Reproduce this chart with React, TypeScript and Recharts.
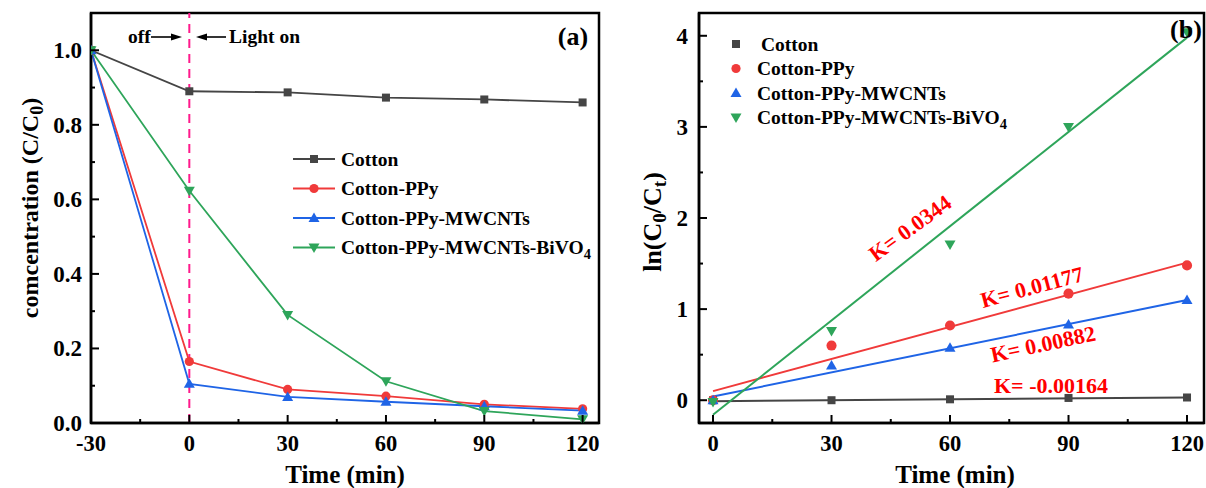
import React from 'react';
import { LineChart, Line, XAxis, YAxis, ReferenceLine, ReferenceArea, ComposedChart, Scatter } from 'recharts';

const FONT = '"Liberation Serif", "Times New Roman", serif';
const GRAY = '#454545';
const RED = '#f03a3a';
const BLUE = '#1f64e6';
const GREEN = '#2ea55a';
const PINK = '#ff1a8c';

// ---- Panel (a) data ----
const timeA = [-30, 0, 30, 60, 90, 120];
const cottonA = [1.0, 0.89, 0.887, 0.873, 0.868, 0.86];
const ppyA = [1.0, 0.165, 0.09, 0.072, 0.05, 0.038];
const mwcntA = [1.0, 0.105, 0.07, 0.057, 0.045, 0.033];
const bivoA = [1.0, 0.623, 0.29, 0.112, 0.032, 0.01];
const xTicksA = [-30, -15, 0, 15, 30, 45, 60, 75, 90, 105, 120];
const xLabelsA = [-30, 0, 30, 60, 90, 120];
const yTicksA = [0, 0.1, 0.2, 0.3, 0.4, 0.5, 0.6, 0.7, 0.8, 0.9, 1.0];
const yLabelsA = [0, 0.2, 0.4, 0.6, 0.8, 1.0];

// ---- Panel (b) data ----
const timeB = [0, 30, 60, 90, 120];
const cottonB = [0.0, 0.0, 0.01, 0.025, 0.03];
const ppyB = [0.0, 0.6, 0.82, 1.17, 1.48];
const mwcntB = [0.0, 0.38, 0.575, 0.83, 1.1];
const bivoB = [-0.02, 0.76, 1.71, 3.0, 4.04];
const fitTimeB = [0, 120];
const fitCottonB = [-0.01, 0.03];
const fitPpyB = [0.1, 1.51];
const fitMwcntB = [0.04, 1.1];
const fitBivoB = [-0.16, 3.98];
const xTicksB = [0, 15, 30, 45, 60, 75, 90, 105, 120];
const xLabelsB = [0, 30, 60, 90, 120];
const yTicksB = [0, 0.5, 1, 1.5, 2, 2.5, 3, 3.5, 4];
const yLabelsB = [0, 1, 2, 3, 4];
const kLabels = ['K= 0.0344', 'K= 0.01177', 'K= 0.00882', 'K= -0.00164'];

const rowsA = timeA.map((t, i) => ({ t, cotton: cottonA[i], ppy: ppyA[i], mwcnt: mwcntA[i], bivo: bivoA[i] }));
const pts = (ys: number[], xs: number[]) => xs.map((t, i) => ({ t, v: ys[i] }));

const isIn = (arr: number[], v: number) => arr.some((a) => Math.abs(a - v) < 1e-9);

function Marker({ kind, cx, cy, color, s = 1 }: any) {
  if (cx == null || cy == null || isNaN(cx) || isNaN(cy)) return null;
  if (kind === 'square') return <rect x={cx - 4 * s} y={cy - 4 * s} width={8 * s} height={8 * s} fill={color} />;
  if (kind === 'circle') return <circle cx={cx} cy={cy} r={4.6 * s} fill={color} />;
  if (kind === 'up')
    return <polygon points={`${cx},${cy - 5.5 * s} ${cx - 5.5 * s},${cy + 4 * s} ${cx + 5.5 * s},${cy + 4 * s}`} fill={color} />;
  return <polygon points={`${cx},${cy + 5.5 * s} ${cx - 5.5 * s},${cy - 4 * s} ${cx + 5.5 * s},${cy - 4 * s}`} fill={color} />;
}

const makeXTick = (labels: number[]) => (props: any) => {
  const { x, y, payload } = props;
  const v = payload.value;
  const major = isIn(labels, v);
  return (
    <g>
      <line x1={x} x2={x} y1={y} y2={y - (major ? 8 : 4)} stroke="#000" strokeWidth={2} />
      {major && (
        <text x={x} y={y + 28} textAnchor="middle" fontFamily={FONT} fontWeight="bold" fontSize={22.5} fill="#000">
          {String(v)}
        </text>
      )}
    </g>
  );
};

const makeYTick = (labels: number[], fmt: (v: number) => string, gap: number) => (props: any) => {
  const { x, y, payload } = props;
  const v = payload.value;
  const major = isIn(labels, v);
  return (
    <g>
      <line x1={x} x2={x + (major ? 8 : 4)} y1={y} y2={y} stroke="#000" strokeWidth={2} />
      {major && (
        <text x={x - gap} y={y + 8} textAnchor="end" fontFamily={FONT} fontWeight="bold" fontSize={23} fill="#000">
          {fmt(v)}
        </text>
      )}
    </g>
  );
};

const dotFn = (kind: string, color: string, s = 1) => (p: any) => (
  <Marker key={`m-${kind}-${p.index}`} kind={kind} cx={p.cx} cy={p.cy} color={color} s={s} />
);

const shapeFn = (kind: string, color: string, s = 1) => (p: any) => (
  <Marker kind={kind} cx={p.cx} cy={p.cy} color={color} s={s} />
);

const seriesA = [
  { key: 'cotton', label: 'Cotton', kind: 'square', color: GRAY },
  { key: 'ppy', label: 'Cotton-PPy', kind: 'circle', color: RED },
  { key: 'mwcnt', label: 'Cotton-PPy-MWCNTs', kind: 'up', color: BLUE },
  { key: 'bivo', label: 'Cotton-PPy-MWCNTs-BiVO', kind: 'down', color: GREEN },
];

function LegendText({ x, y, label, sub }: any) {
  return (
    <text x={x} y={y} fontFamily={FONT} fontWeight="bold" fontSize={19.5} fill="#000">
      {label}
      {sub && (
        <tspan dy={5} fontSize={14.5}>
          {sub}
        </tspan>
      )}
    </text>
  );
}

export default function App() {
  const axisStyle = { stroke: '#000', strokeWidth: 2.5 };
  return (
    <div style={{ position: 'absolute', left: 0, top: 0, width: 1206, height: 488, background: '#fff', overflow: 'hidden' }}>
      {/* Panel (a) */}
      <div style={{ position: 'absolute', left: 0, top: 0 }}>
        <LineChart width={610} height={488} data={rowsA} margin={{ top: 13, right: 11, bottom: 0, left: 0 }}>
          <ReferenceArea x1={-30} x2={125} y1={0} y2={1.1} fill="none" stroke="#000" strokeWidth={2.5} />
          <XAxis
            dataKey="t"
            type="number"
            domain={[-30, 125]}
            ticks={xTicksA}
            interval={0}
            height={65}
            tickSize={0}
            tickMargin={0}
            tickLine={false}
            axisLine={axisStyle}
            tick={makeXTick(xLabelsA)}
            allowDataOverflow
          />
          <YAxis
            type="number"
            domain={[0, 1.1]}
            ticks={yTicksA}
            interval={0}
            width={91}
            tickSize={0}
            tickMargin={0}
            tickLine={false}
            axisLine={axisStyle}
            tick={makeYTick(yLabelsA, (v) => v.toFixed(1), 9)}
            allowDataOverflow
          />
          <ReferenceLine x={0} stroke={PINK} strokeWidth={2} strokeDasharray="9 6" />
          {seriesA.map((s) => (
            <Line
              key={s.key}
              dataKey={s.key}
              stroke={s.color}
              strokeWidth={1.8}
              dot={dotFn(s.kind, s.color)}
              activeDot={false}
              isAnimationActive={false}
            />
          ))}
        </LineChart>
      </div>

      {/* Panel (b) */}
      <div style={{ position: 'absolute', left: 610, top: 0 }}>
        <ComposedChart width={596} height={488} margin={{ top: 13, right: 2, bottom: 0, left: 0 }}>
          <ReferenceArea x1={-3.55} x2={124.3} y1={-0.25} y2={4.25} fill="none" stroke="#000" strokeWidth={2.5} />
          <XAxis
            dataKey="t"
            type="number"
            domain={[-3.55, 124.3]}
            ticks={xTicksB}
            interval={0}
            height={65}
            tickSize={0}
            tickMargin={0}
            tickLine={false}
            axisLine={axisStyle}
            tick={makeXTick(xLabelsB)}
            allowDataOverflow
          />
          <YAxis
            dataKey="v"
            type="number"
            domain={[-0.25, 4.25]}
            ticks={yTicksB}
            interval={0}
            width={89}
            tickSize={0}
            tickMargin={0}
            tickLine={false}
            axisLine={axisStyle}
            tick={makeYTick(yLabelsB, (v) => String(v), 11)}
            allowDataOverflow
          />
          <Line data={pts(fitCottonB, fitTimeB)} dataKey="v" stroke={GRAY} strokeWidth={2} dot={false} activeDot={false} isAnimationActive={false} />
          <Line data={pts(fitPpyB, fitTimeB)} dataKey="v" stroke={RED} strokeWidth={2} dot={false} activeDot={false} isAnimationActive={false} />
          <Line data={pts(fitMwcntB, fitTimeB)} dataKey="v" stroke={BLUE} strokeWidth={2} dot={false} activeDot={false} isAnimationActive={false} />
          <Line data={pts(fitBivoB, fitTimeB)} dataKey="v" stroke={GREEN} strokeWidth={2} dot={false} activeDot={false} isAnimationActive={false} />
          <Scatter data={pts(cottonB, timeB)} dataKey="v" shape={shapeFn('square', GRAY)} isAnimationActive={false} />
          <Scatter data={pts(ppyB, timeB)} dataKey="v" shape={shapeFn('circle', RED, 1.1)} isAnimationActive={false} />
          <Scatter data={pts(mwcntB, timeB)} dataKey="v" shape={shapeFn('up', BLUE)} isAnimationActive={false} />
          <Scatter data={pts(bivoB, timeB)} dataKey="v" shape={shapeFn('down', GREEN)} isAnimationActive={false} />
        </ComposedChart>
      </div>

      {/* Text overlay */}
      <svg width={1206} height={488} style={{ position: 'absolute', left: 0, top: 0, pointerEvents: 'none' }}>
        {/* Panel (a) titles */}
        <text x={345} y={483} textAnchor="middle" fontFamily={FONT} fontWeight="bold" fontSize={25} fill="#000">
          Time (min)
        </text>
        <text x={38} y={208} transform="rotate(-90 38 208)" textAnchor="middle" fontFamily={FONT} fontWeight="bold" fontSize={24} fill="#000">
          comcentration (C/C
          <tspan dy={5} fontSize={18}>0</tspan>
          <tspan dy={-5}>)</tspan>
        </text>
        <text x={573} y={45} textAnchor="middle" fontFamily={FONT} fontWeight="bold" fontSize={26} fill="#000">
          (a)
        </text>
        {/* off / Light on annotation */}
        <text x={128} y={43} fontFamily={FONT} fontWeight="bold" fontSize={19.5} fill="#000">
          off
        </text>
        <line x1={151} y1={37} x2={174} y2={37} stroke="#000" strokeWidth={1.6} />
        <polygon points="182,37 171,33.5 171,40.5" fill="#000" />
        <line x1={204} y1={37} x2={226} y2={37} stroke="#000" strokeWidth={1.6} />
        <polygon points="196,37 207,33.5 207,40.5" fill="#000" />
        <text x={229} y={43} fontFamily={FONT} fontWeight="bold" fontSize={19.5} fill="#000">
          Light on
        </text>
        {/* Legend (a) */}
        {seriesA.map((s, i) => {
          const cy = 159 + i * 29.5;
          return (
            <g key={s.key}>
              <line x1={293} x2={335} y1={cy} y2={cy} stroke={s.color} strokeWidth={2} />
              <Marker kind={s.kind} cx={314} cy={cy} color={s.color} />
              <LegendText x={341} y={cy + 6.5} label={s.label} sub={i === 3 ? '4' : undefined} />
            </g>
          );
        })}

        {/* Panel (b) titles */}
        <text x={955} y={483} textAnchor="middle" fontFamily={FONT} fontWeight="bold" fontSize={25} fill="#000">
          Time (min)
        </text>
        <text x={661} y={222} transform="rotate(-90 661 222)" textAnchor="middle" fontFamily={FONT} fontWeight="bold" fontSize={26} fill="#000">
          ln(C
          <tspan dy={5} fontSize={19}>0</tspan>
          <tspan dy={-5}>/C</tspan>
          <tspan dy={5} fontSize={19}>t</tspan>
          <tspan dy={-5}>)</tspan>
        </text>
        <text x={1186} y={38} textAnchor="middle" fontFamily={FONT} fontWeight="bold" fontSize={26} fill="#000">
          (b)
        </text>
        {/* Legend (b) */}
        {seriesA.map((s, i) => {
          const cy = 44 + i * 24.5;
          return (
            <g key={'b' + s.key}>
              <Marker kind={s.kind} cx={736} cy={cy} color={s.color} />
              <LegendText x={i === 0 ? 761 : 757} y={cy + 6.5} label={s.label} sub={i === 3 ? '4' : undefined} />
            </g>
          );
        })}
        {/* K labels */}
        {[
          { cx: 910, cy: 228, a: -36 },
          { cx: 1032, cy: 287, a: -15 },
          { cx: 1043, cy: 344, a: -12 },
          { cx: 1051, cy: 385, a: 0 },
        ].map((k, i) => (
          <text
            key={'k' + i}
            x={k.cx}
            y={k.cy}
            transform={`rotate(${k.a} ${k.cx} ${k.cy})`}
            textAnchor="middle"
            dominantBaseline="central"
            fontFamily={FONT}
            fontWeight="bold"
            fontSize={22}
            fill="#ff0000"
          >
            {kLabels[i]}
          </text>
        ))}
      </svg>
    </div>
  );
}
